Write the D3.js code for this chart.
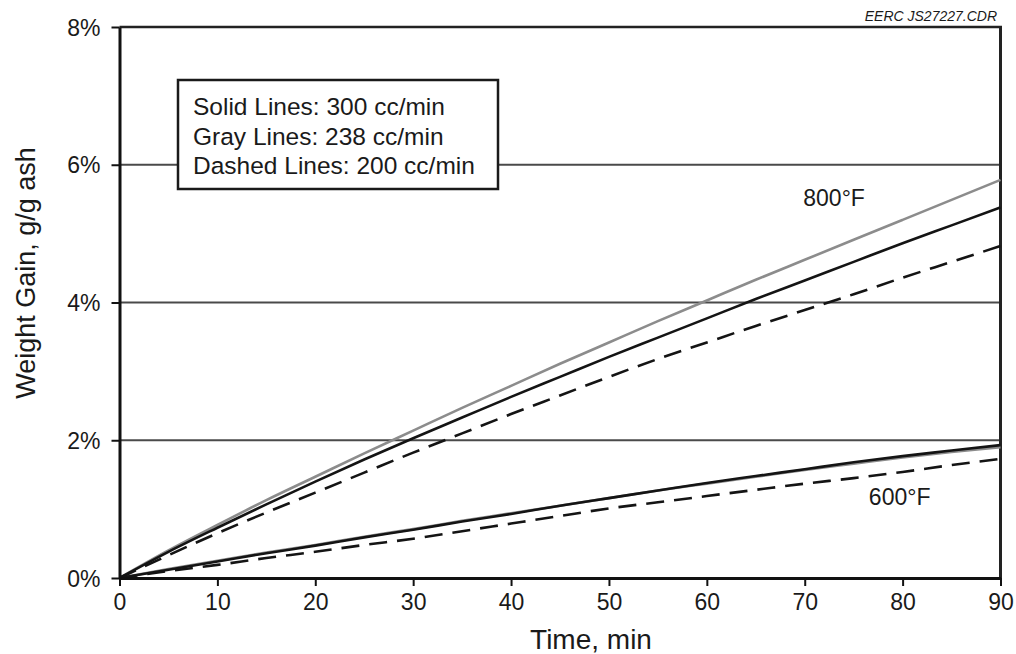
<!DOCTYPE html>
<html>
<head>
<meta charset="utf-8">
<script src="https://cdn.jsdelivr.net/npm/d3@7"></script>
<style>
  html, body { margin: 0; padding: 0; background: #fff; }
  svg { display: block; }
  text { font-family: "Liberation Sans", Arial, Helvetica, sans-serif; fill: #1a1a1a; }
</style>
</head>
<body>
<svg id="chart" width="1016" height="654"></svg>
<script>
// Time axis, minutes
const times = [0, 5, 10, 15, 20, 25, 30, 35, 40, 45, 50, 55, 60, 65, 70, 75, 80, 85, 90];

// Weight gain (%), 800°F runs
const gain800_300 = [0, 0.38, 0.73, 1.07, 1.40, 1.72, 2.03, 2.33, 2.63, 2.92, 3.21, 3.49, 3.77, 4.05, 4.32, 4.59, 4.86, 5.12, 5.38];
const gain800_238 = [0, 0.40, 0.77, 1.13, 1.47, 1.81, 2.14, 2.47, 2.79, 3.11, 3.42, 3.73, 4.03, 4.33, 4.62, 4.91, 5.20, 5.49, 5.78];
const gain800_200 = [0, 0.33, 0.65, 0.95, 1.24, 1.53, 1.82, 2.10, 2.38, 2.65, 2.92, 3.18, 3.42, 3.66, 3.89, 4.12, 4.36, 4.59, 4.82];

// Weight gain (%), 600°F runs
const gain600_300 = [0, 0.12, 0.24, 0.36, 0.47, 0.59, 0.70, 0.82, 0.93, 1.05, 1.16, 1.27, 1.38, 1.48, 1.58, 1.68, 1.77, 1.85, 1.93];
const gain600_238 = [0, 0.13, 0.25, 0.37, 0.48, 0.60, 0.71, 0.83, 0.94, 1.05, 1.16, 1.27, 1.37, 1.47, 1.57, 1.66, 1.75, 1.83, 1.90];
const gain600_200 = [0, 0.10, 0.19, 0.29, 0.38, 0.48, 0.57, 0.68, 0.79, 0.90, 1.01, 1.10, 1.19, 1.28, 1.37, 1.45, 1.54, 1.64, 1.73];

const xTicks = [0, 10, 20, 30, 40, 50, 60, 70, 80, 90];
const yTicks = [0, 2, 4, 6, 8];
const legendLines = ["Solid Lines: 300 cc/min", "Gray Lines: 238 cc/min", "Dashed Lines: 200 cc/min"];
const tempLabels = [
  { text: "800°F", t: 73, v: 5.4 },
  { text: "600°F", t: 79.7, v: 1.06 }
];

const series = [
  { values: gain800_238, style: "gray" },
  { values: gain600_238, style: "gray" },
  { values: gain800_200, style: "dashed" },
  { values: gain600_200, style: "dashed" },
  { values: gain800_300, style: "solid" },
  { values: gain600_300, style: "solid" }
];

const svg = d3.select("#chart");
const plotLeft = 119.5, plotRight = 1000.5, plotTop = 27, plotBottom = 578;

const x = d3.scaleLinear().domain([0, 90]).range([plotLeft, plotRight]);
const y = d3.scaleLinear().domain([0, 8]).range([plotBottom, plotTop]);

// horizontal grid lines
svg.append("g").selectAll("line")
  .data(yTicks.filter(d => d > 0 && d < 8))
  .join("line")
  .attr("x1", plotLeft).attr("x2", plotRight)
  .attr("y1", d => y(d)).attr("y2", d => y(d))
  .attr("stroke", "#4a4a4a").attr("stroke-width", 2);

// top and right frame
svg.append("line").attr("x1", plotLeft).attr("x2", plotRight + 1.5).attr("y1", plotTop).attr("y2", plotTop)
  .attr("stroke", "#222").attr("stroke-width", 2.5);
svg.append("line").attr("x1", plotRight).attr("x2", plotRight).attr("y1", plotTop).attr("y2", plotBottom)
  .attr("stroke", "#222").attr("stroke-width", 3);

// legend box
const lg = svg.append("g").attr("transform", "translate(178,80)");
lg.append("rect").attr("width", 320).attr("height", 109)
  .attr("fill", "#fff").attr("stroke", "#1a1a1a").attr("stroke-width", 2.5);
lg.selectAll("text").data(legendLines).join("text")
  .attr("x", 15).attr("y", (d, i) => 35 + i * 29.5)
  .attr("font-size", 24.5)
  .text(d => d);

// data lines
const line = d3.line()
  .x((d, i) => x(times[i]))
  .y(d => y(d))
  .curve(d3.curveMonotoneX);

svg.append("g").selectAll("path")
  .data(series)
  .join("path")
  .attr("d", d => line(d.values))
  .attr("fill", "none")
  .attr("stroke", d => d.style === "gray" ? "#8c8c8c" : "#141414")
  .attr("stroke-width", 2.6)
  .attr("stroke-dasharray", d => d.style === "dashed" ? "18,10" : null);

// axes
const xAxis = svg.append("g")
  .attr("transform", `translate(0,${plotBottom})`)
  .call(d3.axisBottom(x).tickValues(xTicks).tickSize(8).tickSizeOuter(0).tickPadding(8));
const yAxis = svg.append("g")
  .attr("transform", `translate(${plotLeft},0)`)
  .call(d3.axisLeft(y).tickValues(yTicks).tickFormat(d => d + "%").tickSize(8).tickSizeOuter(0).tickPadding(11));

[xAxis, yAxis].forEach(g => {
  g.select(".domain").attr("stroke", "#111").attr("stroke-width", 3);
  g.selectAll(".tick line").attr("stroke", "#111").attr("stroke-width", 2);
  g.selectAll(".tick text")
    .attr("font-size", 23)
    .attr("font-family", "'Liberation Sans', Arial, sans-serif")
    .attr("fill", "#1a1a1a");
});
xAxis.selectAll(".tick text").attr("dy", "0.71em");
yAxis.selectAll(".tick text").attr("dy", "0.35em");

// temperature labels
svg.append("g").selectAll("text").data(tempLabels).join("text")
  .attr("x", d => x(d.t)).attr("y", d => y(d.v))
  .attr("text-anchor", "middle")
  .attr("font-size", 23)
  .text(d => d.text);

// axis titles
svg.append("text")
  .attr("x", 591).attr("y", 649)
  .attr("text-anchor", "middle")
  .attr("font-size", 28)
  .text("Time, min");

svg.append("text")
  .attr("transform", "translate(35,273) rotate(-90)")
  .attr("text-anchor", "middle")
  .attr("font-size", 27)
  .text("Weight Gain, g/g ash");

// drawing reference tag
svg.append("text")
  .attr("x", 997).attr("y", 21)
  .attr("text-anchor", "end")
  .attr("font-size", 14)
  .attr("font-style", "italic")
  .text("EERC JS27227.CDR");
</script>
</body>
</html>
